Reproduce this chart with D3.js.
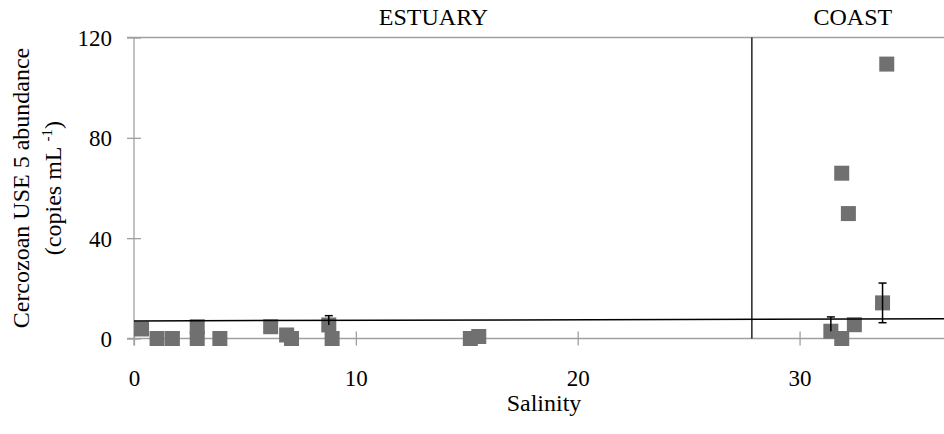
<!DOCTYPE html>
<html>
<head>
<meta charset="utf-8">
<script src="https://cdn.jsdelivr.net/npm/d3@7"></script>
<style>
    body { margin: 0; background: #fff; }
    svg text { font-family: "Liberation Serif", "Times New Roman", Times, "DejaVu Serif", serif; }
</style>
</head>
<body>
<div id="chart"></div>
<script>
// Salinity and Cercozoan USE 5 abundance (copies mL-1)
const salinity = [0.34, 1.04, 1.73, 2.85, 2.85, 3.87, 6.16, 6.88, 7.1, 8.78, 8.93, 15.16, 15.54,
                  31.41, 31.9, 31.9, 32.2, 32.47, 33.74, 33.93];
const abundance = [3.8, 0, 0, 4.7, 0, 0, 4.7, 1.4, 0, 5.4, 0, 0, 0.8,
                   2.9, 0, 65.9, 49.8, 5.5, 14.2, 109.4];
const errUp = [0, 0, 0, 0, 0, 0, 0, 0, 0, 3.7, 0, 0, 0,
               5.7, 0, 0, 0, 0, 7.9, 0];
const errDown = [0, 0, 0, 0, 0, 0, 0, 0, 0, 0, 0, 0, 0,
                 0, 0, 0, 0, 0, 7.9, 0];

// Black reference line (salinity, abundance) and zone divider
const refLine = [[0, 7.0], [36.6, 7.9]];
const dividerSalinity = 27.85;
const zones = [{ label: "ESTUARY", x: 13.5 }, { label: "COAST", x: 32.4 }];

const xTicks = [0, 10, 20, 30];
const yTicks = [0, 40, 80, 120];

const width = 944, height = 434;
const fontFamily = "'Liberation Serif', 'Times New Roman', Times, 'DejaVu Serif', serif";
const svg = d3.select("#chart").append("svg")
    .attr("width", width)
    .attr("height", height)
    .attr("font-family", fontFamily);

// Scales
const x = d3.scaleLinear().domain([0, 36.6]).range([134, 946]);
const y = d3.scaleLinear().domain([0, 120]).range([338.5, 37.5]);

const axisColor = "#a0a0a0";

// Top border of the plot area
svg.append("line")
    .attr("x1", 127).attr("x2", width)
    .attr("y1", y(120)).attr("y2", y(120))
    .attr("stroke", axisColor).attr("stroke-width", 1.3);

// Y axis
const yAxis = svg.append("g")
    .attr("transform", `translate(${x(0)},0)`)
    .call(d3.axisLeft(y).tickValues(yTicks).tickSize(7).tickPadding(15));
yAxis.select(".domain").remove();
yAxis.selectAll(".tick line").attr("x2", 7).attr("x1", -7);
yAxis.append("line")
    .attr("y1", y(120)).attr("y2", y(0) + 7)
    .attr("stroke", axisColor).attr("stroke-width", 1.3);

// X axis
const xAxis = svg.append("g")
    .attr("transform", `translate(0,${y(0)})`)
    .call(d3.axisBottom(x).tickValues(xTicks).tickSize(7));
xAxis.select(".domain").remove();
xAxis.selectAll(".tick line").attr("y1", -7).attr("y2", 7);
xAxis.append("line")
    .attr("x1", x(0) - 7).attr("x2", width)
    .attr("stroke", axisColor).attr("stroke-width", 1.3);

svg.selectAll("g").attr("font-family", fontFamily);
svg.selectAll(".tick line").attr("stroke", axisColor).attr("stroke-width", 1.3);
svg.selectAll(".tick text")
    .attr("font-size", 23)
    .attr("fill", "#000");
yAxis.selectAll(".tick text").attr("dy", "0.35em");
xAxis.selectAll(".tick text").attr("dy", "0.35em").attr("y", 39);

// Zone divider
svg.append("line")
    .attr("x1", x(dividerSalinity)).attr("x2", x(dividerSalinity))
    .attr("y1", y(120)).attr("y2", y(0))
    .attr("stroke", "#000").attr("stroke-width", 1.3);

// Points
const points = salinity.map((s, i) => ({ s: s, a: abundance[i], up: errUp[i], down: errDown[i] }));
const size = 15;

svg.selectAll("rect.point")
    .data(points)
    .enter().append("rect")
        .attr("class", "point")
        .attr("x", d => x(d.s) - size / 2)
        .attr("y", d => y(d.a) - size / 2)
        .attr("width", size)
        .attr("height", size)
        .attr("fill", "#707070");

// Error bars
const errs = svg.selectAll("g.err")
    .data(points.filter(d => d.up > 0))
    .enter().append("g")
        .attr("class", "err")
        .attr("stroke", "#000")
        .attr("stroke-width", 1.5);
errs.append("line")
    .attr("x1", d => x(d.s)).attr("x2", d => x(d.s))
    .attr("y1", d => y(d.a + d.up)).attr("y2", d => y(d.a - d.down));
errs.append("line")
    .attr("x1", d => x(d.s) - 4).attr("x2", d => x(d.s) + 4)
    .attr("y1", d => y(d.a + d.up)).attr("y2", d => y(d.a + d.up));
errs.filter(d => d.down > 0)
    .append("line")
    .attr("x1", d => x(d.s) - 4).attr("x2", d => x(d.s) + 4)
    .attr("y1", d => y(d.a - d.down)).attr("y2", d => y(d.a - d.down));

// Reference line
svg.append("path")
    .datum(refLine)
    .attr("d", d3.line().x(d => x(d[0])).y(d => y(d[1])))
    .attr("stroke", "#000")
    .attr("stroke-width", 1.5)
    .attr("fill", "none");

// Zone labels
svg.selectAll("text.zone")
    .data(zones)
    .enter().append("text")
        .attr("class", "zone")
        .attr("x", d => x(d.x))
        .attr("y", 25)
        .attr("text-anchor", "middle")
        .attr("font-size", 24)
        .text(d => d.label);

// Axis titles
svg.append("text")
    .attr("x", 544)
    .attr("y", 411)
    .attr("text-anchor", "middle")
    .attr("font-size", 24)
    .text("Salinity");

const yTitle = svg.append("text")
    .attr("transform", `translate(29,${y(60)}) rotate(-90)`)
    .attr("text-anchor", "middle")
    .attr("font-size", 24);
yTitle.append("tspan").attr("x", 0).attr("y", 0).text("Cercozoan USE 5 abundance");
const line2 = yTitle.append("tspan").attr("x", 0).attr("y", 32).text("(copies mL ");
line2.append("tspan").attr("dy", -9).attr("font-size", 15).text("-1");
line2.append("tspan").attr("dy", 9).text(")");
</script>
</body>
</html>
